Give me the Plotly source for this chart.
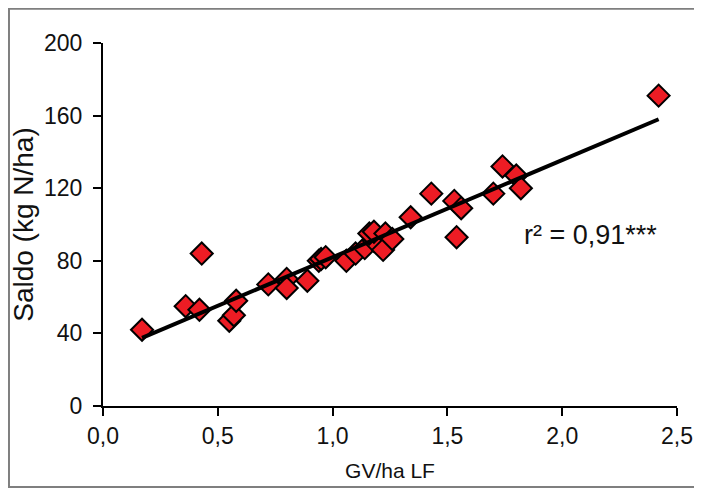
import plotly.graph_objects as go

# GV/ha LF vs N-Saldo (kg N/ha)
gv_ha = [
    0.17, 0.36, 0.42, 0.43, 0.55, 0.57, 0.58, 0.72, 0.80, 0.80, 0.89,
    0.94, 0.95, 0.97, 1.06, 1.10, 1.14, 1.18, 1.16, 1.18, 1.23, 1.22,
    1.26, 1.34, 1.43, 1.53, 1.56, 1.54, 1.70, 1.74, 1.80, 1.82, 2.42,
]
saldo = [
    42, 55, 53, 84, 47, 50, 58, 67, 70, 65, 69,
    80, 81, 82, 80, 84, 87, 91, 95, 96, 95, 86,
    92, 104, 117, 113, 109, 93, 117, 132, 127, 120, 171,
]

# linear trend as drawn in the reference
trend_x = [0.17, 2.42]
trend_y = [37.5, 158]

r2_text = "r² = 0,91***"

x_ticks = [0, 0.5, 1.0, 1.5, 2.0, 2.5]
y_ticks = [0, 40, 80, 120, 160, 200]

FONT = "Liberation Sans, Arial, sans-serif"
TEXT_COLOR = "#111111"

fig = go.Figure()

fig.add_trace(
    go.Scatter(
        x=gv_ha,
        y=saldo,
        mode="markers",
        marker=dict(
            symbol="diamond",
            size=17,
            color="#ED1C24",
            line=dict(color="black", width=2),
        ),
        showlegend=False,
    )
)

fig.add_trace(
    go.Scatter(
        x=trend_x,
        y=trend_y,
        mode="lines",
        line=dict(color="black", width=4),
        showlegend=False,
    )
)

fig.add_annotation(
    x=0.968, y=0.472, xref="paper", yref="paper",
    text=r2_text, showarrow=False,
    xanchor="right", yanchor="middle",
    font=dict(size=27, color=TEXT_COLOR, family=FONT),
)

# grey frame around the chart
fig.add_shape(
    type="rect", xref="paper", yref="paper",
    x0=-0.1638, x1=1.06, y0=-0.2233, y1=1.0946,
    line=dict(color="#7f7f7f", width=2),
)

axis_common = dict(
    showgrid=False,
    zeroline=False,
    showline=True,
    linecolor="black",
    linewidth=2,
    ticks="outside",
    ticklen=8,
    tickwidth=2,
    tickcolor="black",
    automargin=False,
    tickfont=dict(size=23, color=TEXT_COLOR, family=FONT),
)

fig.update_xaxes(
    range=[0, 2.5],
    tickvals=x_ticks,
    tickformat=".1f",
    title=dict(text="GV/ha LF", font=dict(size=21, color=TEXT_COLOR, family=FONT), standoff=16),
    **axis_common,
)
fig.update_yaxes(
    range=[0, 200],
    tickvals=y_ticks,
    ticklabelstandoff=6,
    title=dict(text="Saldo (kg N/ha)", font=dict(size=28, color=TEXT_COLOR, family=FONT), standoff=2),
    **axis_common,
)

# the page adds an 8px body margin, so the figure is sized to fit inside it
fig.update_layout(
    width=686,
    height=480,
    separators=", ",
    plot_bgcolor="white",
    paper_bgcolor="white",
    margin=dict(l=95, r=17, t=35, b=82),
    font=dict(family=FONT),
)

fig.write_html("out.html")
